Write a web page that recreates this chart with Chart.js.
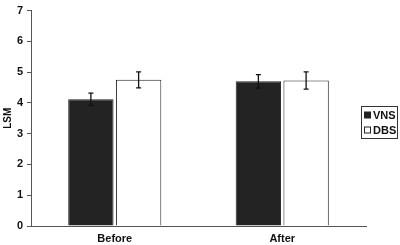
<!DOCTYPE html>
<html>
<head>
<meta charset="utf-8">
<script src="https://cdn.jsdelivr.net/npm/chart.js@4"></script>
<style>
  html, body { margin: 0; padding: 0; background: #fff; }
  #wrap { width: 400px; height: 245px; }
</style>
</head>
<body>
<div id="wrap"><canvas id="lsmChart" width="400" height="245"></canvas></div>
<script>
// data
var categories = ['Before', 'After'];
var vnsValues = [4.12, 4.70];
var vnsErrors = [0.20, 0.22];
var dbsValues = [4.75, 4.73];
var dbsErrors = [0.26, 0.28];
var yTicks = [0, 1, 2, 3, 4, 5, 6, 7];

var FONT = 'Liberation Sans, Arial, sans-serif';

// error bars drawn through the scales
var errorBarPlugin = {
    id: 'errorBars',
    afterDatasetsDraw: function (chart) {
        var ctx = chart.ctx;
        var yScale = chart.scales.y;
        chart.data.datasets.forEach(function (ds, di) {
            var meta = chart.getDatasetMeta(di);
            meta.data.forEach(function (bar, i) {
                var v = ds.data[i];
                var e = ds.errors[i];
                var yTop = yScale.getPixelForValue(v + e);
                var yBot = yScale.getPixelForValue(v - e);
                ctx.save();
                ctx.strokeStyle = '#111';
                ctx.lineWidth = 1.3;
                ctx.beginPath();
                ctx.moveTo(bar.x, yTop);
                ctx.lineTo(bar.x, yBot);
                ctx.moveTo(bar.x - 2.5, yTop);
                ctx.lineTo(bar.x + 2.5, yTop);
                ctx.moveTo(bar.x - 2.5, yBot);
                ctx.lineTo(bar.x + 2.5, yBot);
                ctx.stroke();
                ctx.restore();
            });
        });
    }
};

// boxed legend at the right
var boxLegendPlugin = {
    id: 'boxLegend',
    afterDraw: function (chart) {
        var ctx = chart.ctx;
        var x = 361, y = 106, w = 36, h = 32;
        ctx.save();
        ctx.strokeStyle = '#333';
        ctx.lineWidth = 1;
        ctx.strokeRect(x + 0.5, y + 0.5, w, h);
        ctx.font = 'bold 11px ' + FONT;
        ctx.textBaseline = 'middle';
        chart.data.datasets.forEach(function (ds, i) {
            var cy = y + 9 + i * 15;
            ctx.fillStyle = ds.backgroundColor;
            ctx.fillRect(x + 3.5, cy - 3, 6, 6);
            ctx.strokeStyle = '#222';
            ctx.strokeRect(x + 3.5, cy - 3, 6, 6);
            ctx.fillStyle = '#111';
            ctx.fillText(ds.label, x + 12, cy + 0.5);
        });
        ctx.restore();
    }
};

var ctx = document.getElementById('lsmChart');
var lsmChart = new Chart(ctx, {
    type: 'bar',
    data: {
        labels: categories,
        datasets: [
            {
                label: 'VNS',
                data: vnsValues,
                errors: vnsErrors,
                backgroundColor: '#232323',
                borderColor: '#232323',
                borderWidth: 1,
                categoryPercentage: 0.57,
                barPercentage: 0.95
            },
            {
                label: 'DBS',
                data: dbsValues,
                errors: dbsErrors,
                backgroundColor: '#ffffff',
                borderColor: '#222222',
                borderWidth: 1,
                categoryPercentage: 0.57,
                barPercentage: 0.95
            }
        ]
    },
    options: {
        responsive: false,
        animation: false,
        layout: { padding: { top: 1, right: 34, left: 2, bottom: 0 } },
        plugins: {
            legend: { display: false },
            tooltip: { enabled: false }
        },
        scales: {
            x: {
                grid: { display: false, drawTicks: false, tickLength: 0 },
                border: { color: '#555', width: 1 },
                ticks: {
                    color: '#111',
                    font: { family: FONT, size: 11, weight: 'bold' },
                    padding: 6
                },
                afterFit: function (scale) { scale.height = 19; }
            },
            y: {
                min: 0,
                max: 7,
                afterBuildTicks: function (scale) {
                    scale.ticks = yTicks.map(function (t) { return { value: t }; });
                },
                grid: {
                    drawOnChartArea: false,
                    tickLength: 4,
                    color: '#555'
                },
                border: { color: '#555', width: 1 },
                ticks: {
                    color: '#111',
                    font: { family: FONT, size: 11, weight: 'bold' },
                    padding: 4
                },
                title: {
                    display: true,
                    text: 'LSM',
                    color: '#111',
                    font: { family: FONT, size: 10, weight: 'bold' },
                    padding: 0
                },
                afterFit: function (scale) { scale.width = 29; }
            }
        }
    },
    plugins: [errorBarPlugin, boxLegendPlugin]
});
</script>
</body>
</html>
